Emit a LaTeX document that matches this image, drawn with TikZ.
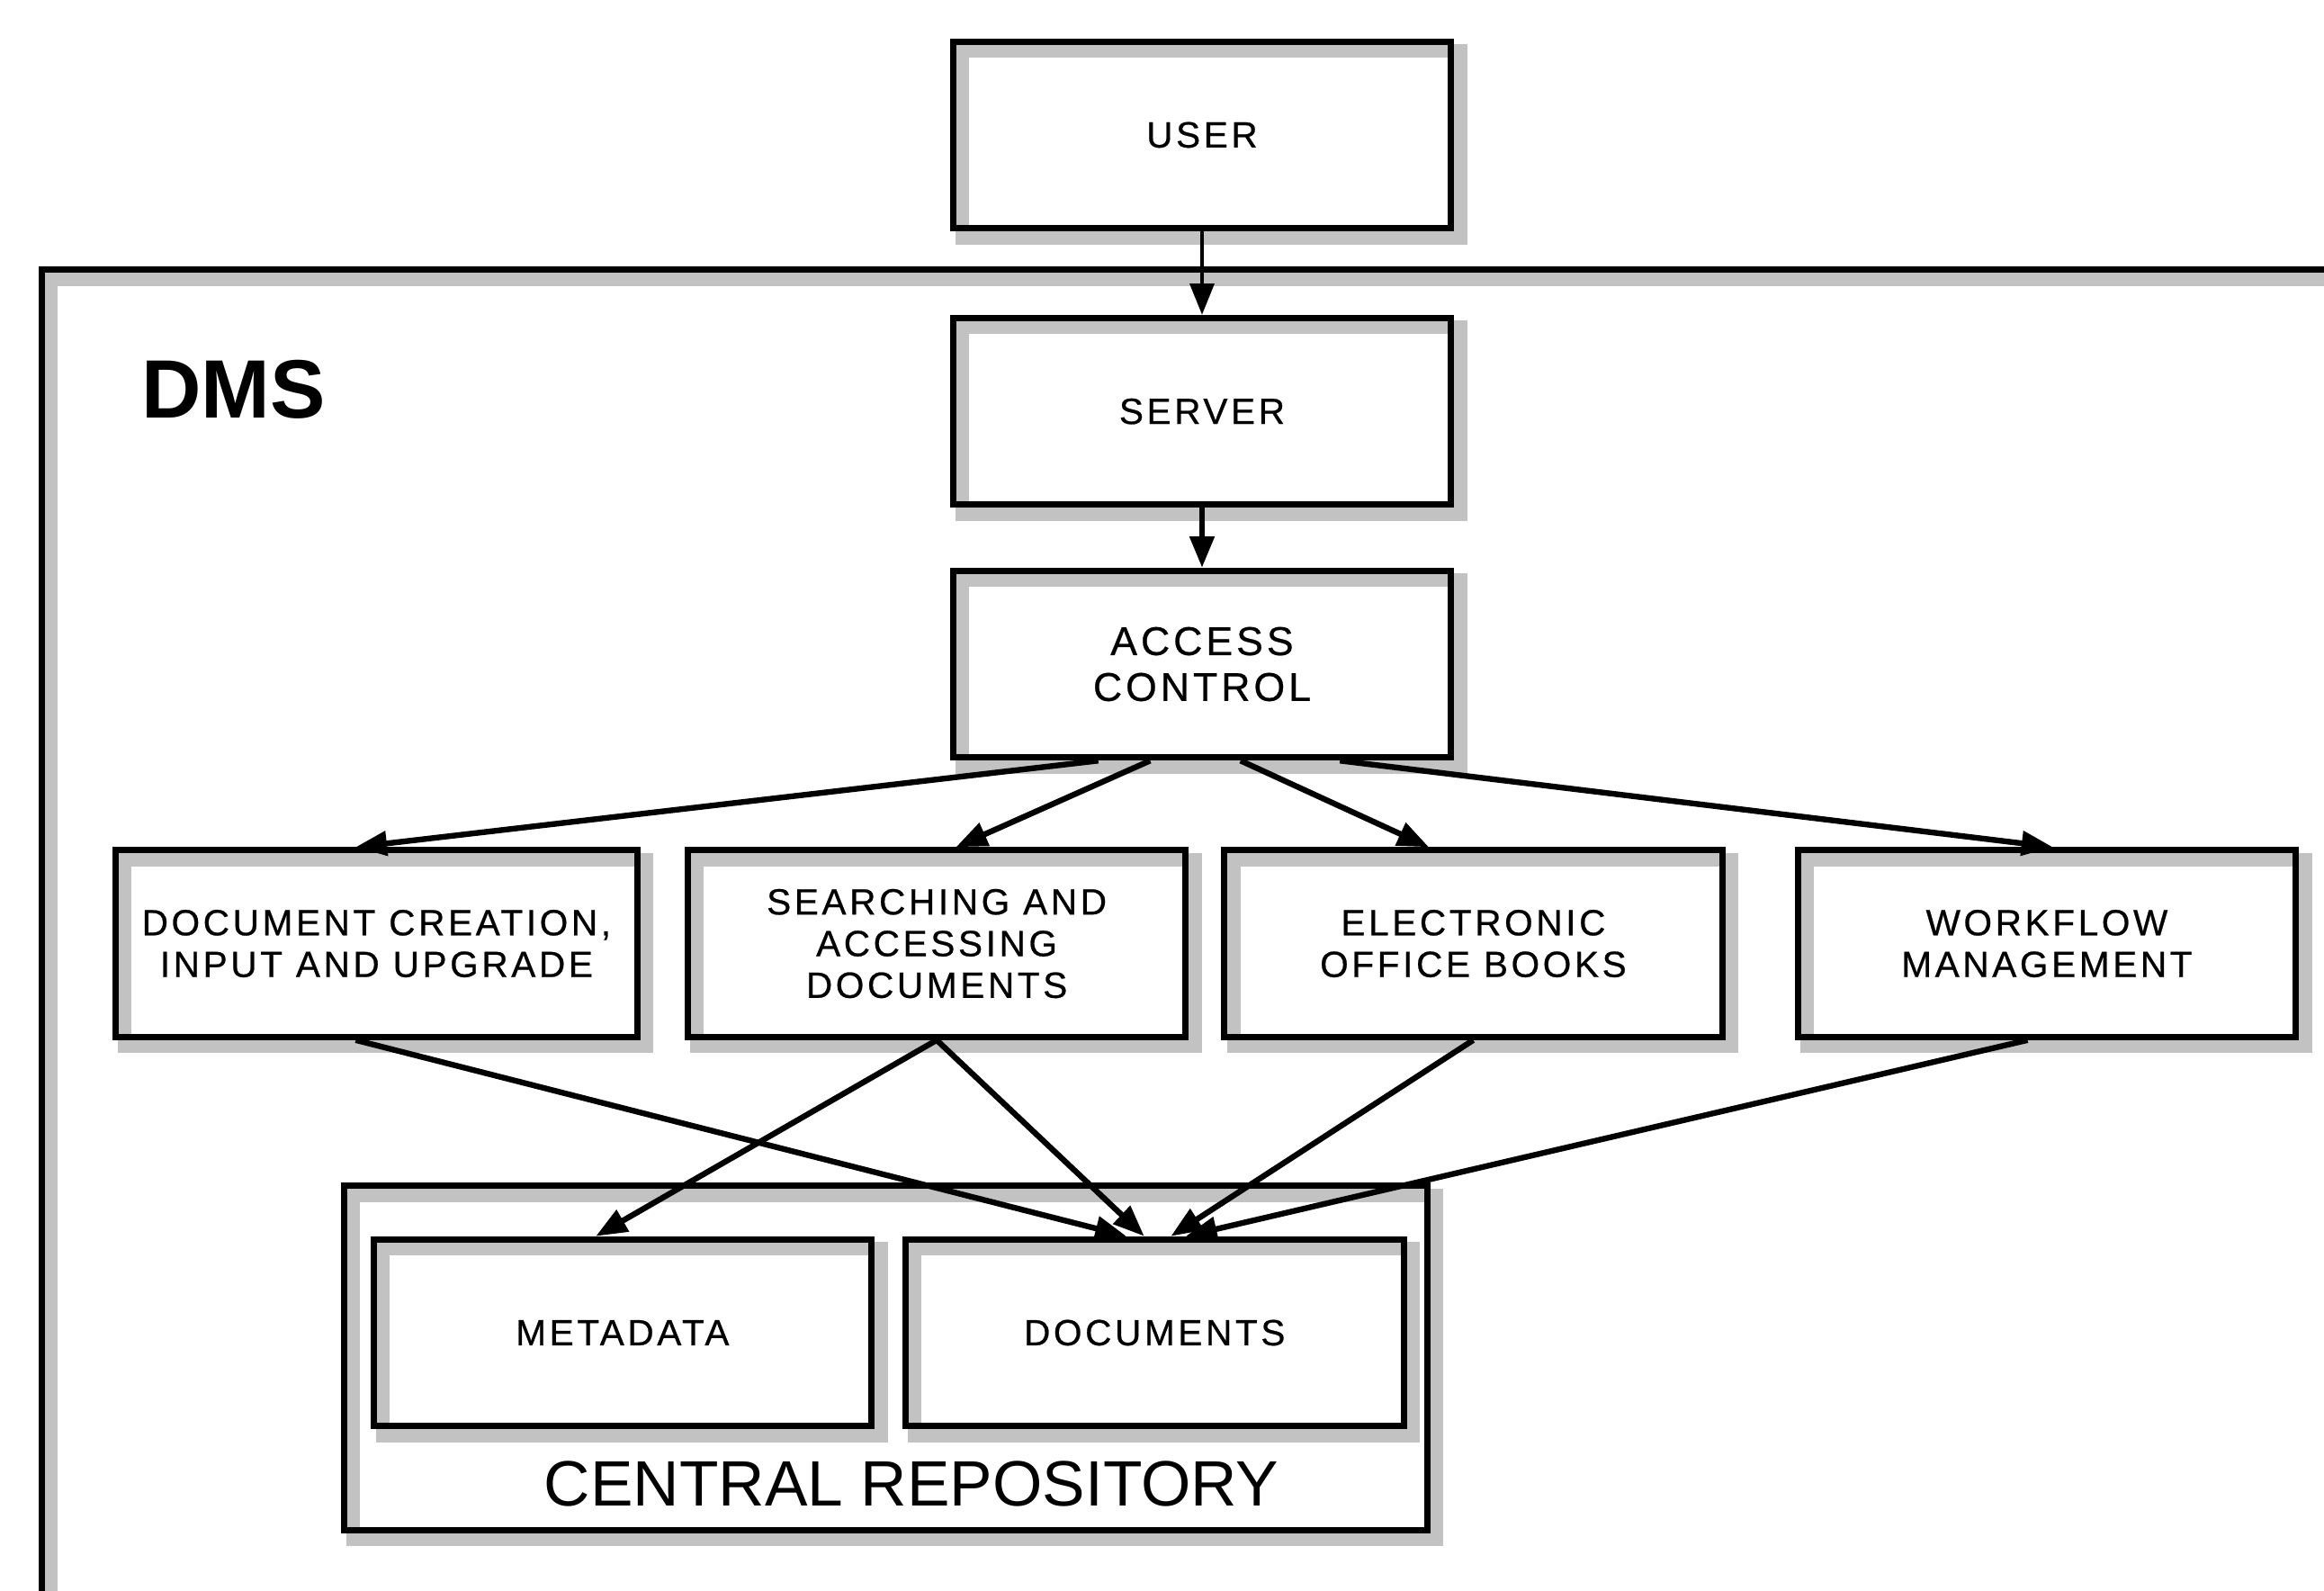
\documentclass[tikz,border=0pt]{standalone}
\usepackage{fontspec}
\setmainfont{Liberation Sans}
\newfontfamily\labelfont[LetterSpace=9,FakeBold=0.6]{Liberation Sans}
\usetikzlibrary{arrows.meta}

\tikzset{
  shade box/.style={draw, line width=1.2pt,
    preaction={draw=black!24, line width=2.6pt, transform canvas={shift={(1.8pt,-1.8pt)}}}},
  block/.style={shade box, minimum width=3.36cm, minimum height=1.26cm, inner sep=0pt,
    align=center, font=\labelfont\fontsize{7}{8}\selectfont},
  arr/.style={-{Triangle[length=6pt,width=4.6pt]}, line width=1.1pt},
}

\begin{document}
\begin{tikzpicture}
\clip (0,0) rectangle (15.68,-10.73);
% system frame, runs off the page on the right and at the bottom
\draw[shade box] (0.28,-1.82) rectangle (16.2,-11.4);
\node[font=\bfseries\fontsize{15.9}{18}\selectfont] (dms) at (1.575,-2.63) {DMS};

\node[block] (user) at (8.11,-0.91) {USER};
\node[block] (server) at (8.11,-2.775) {SERVER};
\node[block, font=\labelfont\fontsize{7.7}{8.8}\selectfont] (access) at (8.11,-4.48) {ACCESS\\CONTROL};

% modules
\node[block, minimum width=3.52cm] (create) at (2.54,-6.365) {DOCUMENT CREATION,\\INPUT AND UPGRADE};
\node[block] (search) at (6.32,-6.365) {SEARCHING AND\\ACCESSING\\DOCUMENTS};
\node[block] (office) at (9.94,-6.365) {ELECTRONIC\\OFFICE BOOKS};
\node[block] (workflow) at (13.81,-6.365) {WORKFLOW\\MANAGEMENT};

% central repository with its two stores
\node[shade box, minimum width=7.31cm, minimum height=2.32cm] (repo) at (5.975,-9.16) {};
\node[font=\fontsize{12.3}{14}\selectfont] (repolabel) at (6.15,-10.01) {CENTRAL REPOSITORY};
\node[block] (meta) at (4.20,-8.99) {METADATA};
\node[block] (docs) at (7.79,-8.99) {DOCUMENTS};

\draw[arr, line width=0.8pt] (user) -- (server);
\draw[arr] (server) -- (access);

\draw[arr] ([xshift=-7mm]access.south) -- ([xshift=-1.4mm]create.north);
\draw[arr] ([xshift=-3.5mm]access.south) -- ([xshift=1.3mm]search.north);
\draw[arr] ([xshift=2.6mm]access.south) -- ([xshift=-3mm]office.north);
\draw[arr] ([xshift=9.3mm]access.south) -- ([xshift=0.4mm]workflow.north);

\draw[arr] ([xshift=-1.4mm]create.south) -- ([xshift=-1.9mm]docs.north);
\draw[arr] (search.south) -- ([xshift=-1.8mm]meta.north);
\draw[arr] (search.south) -- ([xshift=-0.7mm]docs.north);
\draw[arr] (office.south) -- ([xshift=1.1mm]docs.north);
\draw[arr] ([xshift=-1.3mm]workflow.south) -- ([xshift=2.1mm]docs.north);
\end{tikzpicture}
\end{document}
